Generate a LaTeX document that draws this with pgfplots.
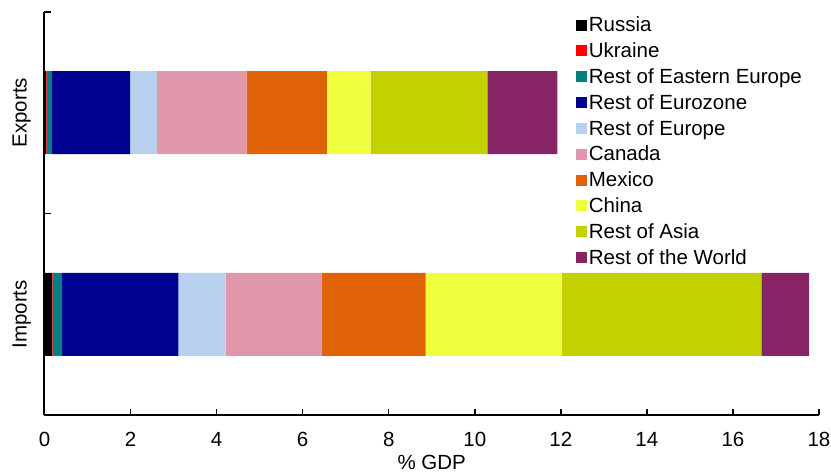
\documentclass[border=0pt]{standalone}
\usepackage{pgfplots}
\pgfplotsset{compat=1.18}
\usepackage{fontspec}
\setmainfont{Liberation Sans}
\definecolor{cRussia}{HTML}{000000}
\definecolor{cUkraine}{HTML}{FF0000}
\definecolor{cREE}{HTML}{008080}
\definecolor{cEZ}{HTML}{000091}
\definecolor{cROE}{HTML}{B7D1EE}
\definecolor{cCanada}{HTML}{E097AB}
\definecolor{cMexico}{HTML}{DF6206}
\definecolor{cChina}{HTML}{EFFF3F}
\definecolor{cRoA}{HTML}{C3D100}
\definecolor{cROW}{HTML}{862466}
\begin{document}
\begin{tikzpicture}
\path[use as bounding box] (-44.5pt,-57pt) rectangle (786.5pt,415pt);
\begin{axis}[
  at={(0,0)}, anchor=south west,
  scale only axis,
  width=774.5pt, height=403pt,
  xbar stacked,
  bar width=83pt,
  xmin=0, xmax=18,
  ymin=-0.5, ymax=1.5,
  axis x line*=bottom,
  axis y line*=left,
  axis line style={line width=2pt, -},
  xtick={0,2,...,18},
  ytick={-0.5,0.5,1.5},
  yticklabels={},
  extra y ticks={0,1},
  extra y tick labels={Imports,Exports},
  extra y tick style={tick style={draw=none}, yticklabel style={rotate=90, anchor=south, yshift=10pt}},
  tick align=inside,
  major tick length=6pt,
  tick style={line width=1.5pt, black},
  xlabel={\% GDP},
  xlabel style={yshift=-1pt},
  xticklabel style={yshift=-14pt},
  /pgf/number format/assume math mode=true,
  font=\fontsize{20.5}{23}\selectfont,
  ticklabel style={font=\fontsize{20.5}{23}\selectfont},
  legend style={draw=none, fill=none, at={(0.686,0.993)}, anchor=north west,
    font=\fontsize{20.5}{23}\selectfont, row sep=5.5pt,
    inner sep=0pt, outer sep=0pt},
  legend cell align=left,
  legend image code/.code={\fill[#1] (0pt,-5.5pt) rectangle (11pt,5.5pt);},
  every axis plot/.append style={draw=none},
  clip=false,
]
\addplot[fill=cRussia] coordinates {(0.17,0) (0.03,1)};
\addplot[fill=cUkraine] coordinates {(0.02,0) (0.02,1)};
\addplot[fill=cREE] coordinates {(0.22,0) (0.12,1)};
\addplot[fill=cEZ] coordinates {(2.70,0) (1.82,1)};
\addplot[fill=cROE] coordinates {(1.10,0) (0.62,1)};
\addplot[fill=cCanada] coordinates {(2.24,0) (2.09,1)};
\addplot[fill=cMexico] coordinates {(2.41,0) (1.86,1)};
\addplot[fill=cChina] coordinates {(3.17,0) (1.02,1)};
\addplot[fill=cRoA] coordinates {(4.63,0) (2.71,1)};
\addplot[fill=cROW] coordinates {(1.11,0) (1.63,1)};
\legend{Russia,Ukraine,Rest of Eastern Europe,Rest of Eurozone,Rest of Europe,Canada,Mexico,China,Rest of Asia,Rest of the World}
\end{axis}
\end{tikzpicture}
\end{document}
